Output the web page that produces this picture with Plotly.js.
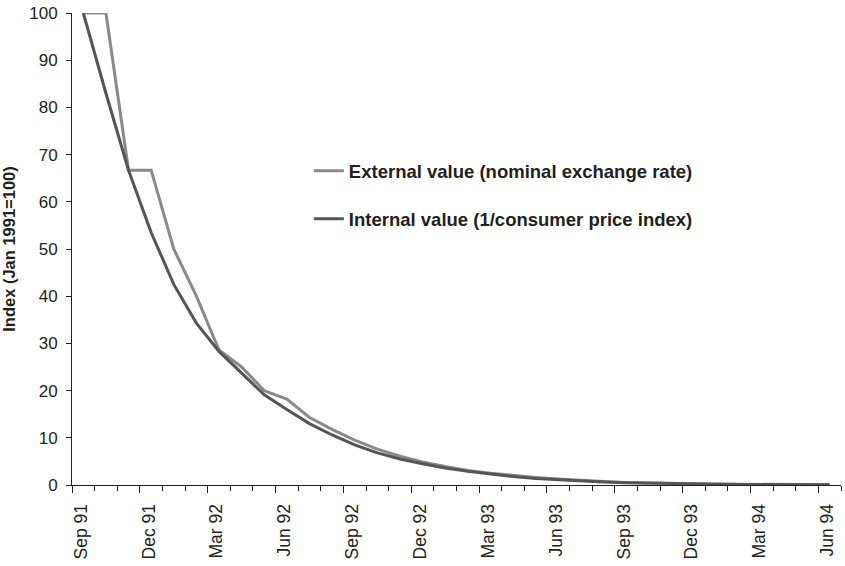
<!DOCTYPE html>
<html>
<head>
<meta charset="utf-8">
<script src="https://cdn.plot.ly/plotly-3.0.1.min.js"></script>
<style>html,body{margin:0;padding:0;background:#fff;}#chart{width:845px;height:566px;}</style>
</head>
<body>
<div id="chart"></div>
<script>
const months = ["Sep 91","Oct 91","Nov 91","Dec 91","Jan 92","Feb 92","Mar 92","Apr 92","May 92","Jun 92","Jul 92","Aug 92",
  "Sep 92","Oct 92","Nov 92","Dec 92","Jan 93","Feb 93","Mar 93","Apr 93","May 93","Jun 93","Jul 93","Aug 93",
  "Sep 93","Oct 93","Nov 93","Dec 93","Jan 94","Feb 94","Mar 94","Apr 94","May 94","Jun 94"];
const externalValue = [100, 100, 66.7, 66.7, 50, 40, 28.6, 25, 20, 18.2, 14.3, 11.8, 9.5, 7.6, 6.1, 4.9, 3.9, 3.1, 2.5, 2.0,
  1.6, 1.25, 0.95, 0.72, 0.55, 0.42, 0.32, 0.25, 0.19, 0.15, 0.11, 0.09, 0.07, 0.05];
const internalValue = [100, 83, 66.7, 53.5, 42.5, 34.3, 28.3, 23.8, 19.1, 16.0, 13.0, 10.6, 8.5, 6.8, 5.5, 4.5, 3.6, 2.9, 2.3, 1.8,
  1.4, 1.1, 0.85, 0.65, 0.5, 0.38, 0.29, 0.22, 0.17, 0.13, 0.1, 0.08, 0.06, 0.05];
const tickLabels = ["Sep 91","Dec 91","Mar 92","Jun 92","Sep 92","Dec 92","Mar 93","Jun 93","Sep 93","Dec 93","Mar 94","Jun 94"];
const yTicks = [0,10,20,30,40,50,60,70,80,90,100];

const idx = months.map((m, i) => i);
const labelPos = tickLabels.map(l => months.indexOf(l) - 0.5);

const FONT = "Liberation Sans, Arial, sans-serif";
const TXT = "#231f20";

const traces = [
  {x: idx, y: externalValue, type: "scatter", mode: "lines", name: "External value (nominal exchange rate)",
   line: {color: "#8a8a8a", width: 3}, legendgroup: "a"},
  {x: idx, y: internalValue, type: "scatter", mode: "lines", name: "Internal value (1/consumer price index)",
   line: {color: "#555555", width: 3}, legendgroup: "b"}
];

const layout = {
  width: 845, height: 566,
  margin: {l: 72, r: 4, t: 13, b: 81},
  paper_bgcolor: "#fff", plot_bgcolor: "#fff",
  font: {family: FONT, color: TXT, size: 17},
  showlegend: true,
  legend: {x: 0.308, y: 0.705, xanchor: "left", yanchor: "top", tracegroupgap: 21,
    font: {family: FONT, size: 18.5, color: TXT, weight: "bold"}, bgcolor: "rgba(0,0,0,0)"},
  xaxis: {
    range: [-0.5, 33.5], showgrid: false, zeroline: false,
    showline: true, linecolor: TXT, linewidth: 1,
    tickmode: "array", tickvals: labelPos, ticktext: tickLabels,
    ticks: "outside", ticklen: 7, tickcolor: TXT, tickwidth: 1,
    tickangle: -90, ticklabelshift: 9, ticklabelstandoff: 4,
    tickfont: {family: FONT, size: 17.5, color: TXT},
    minor: {tick0: -0.5, dtick: 1, ticks: "outside", ticklen: 5, tickcolor: TXT, tickwidth: 1, showgrid: false}
  },
  yaxis: {
    range: [0, 100], showgrid: false, zeroline: false,
    showline: true, linecolor: TXT, linewidth: 1,
    tickmode: "array", tickvals: yTicks,
    ticks: "outside", ticklen: 5, tickcolor: TXT, tickwidth: 1, ticklabelstandoff: 5,
    tickfont: {family: FONT, size: 17, color: TXT},
    title: {text: "Index (Jan 1991=100)", font: {family: FONT, size: 16.5, color: TXT, weight: "bold"}, standoff: 10}
  }
};

Plotly.newPlot("chart", traces, layout, {staticPlot: true, displayModeBar: false});
</script>
</body>
</html>
